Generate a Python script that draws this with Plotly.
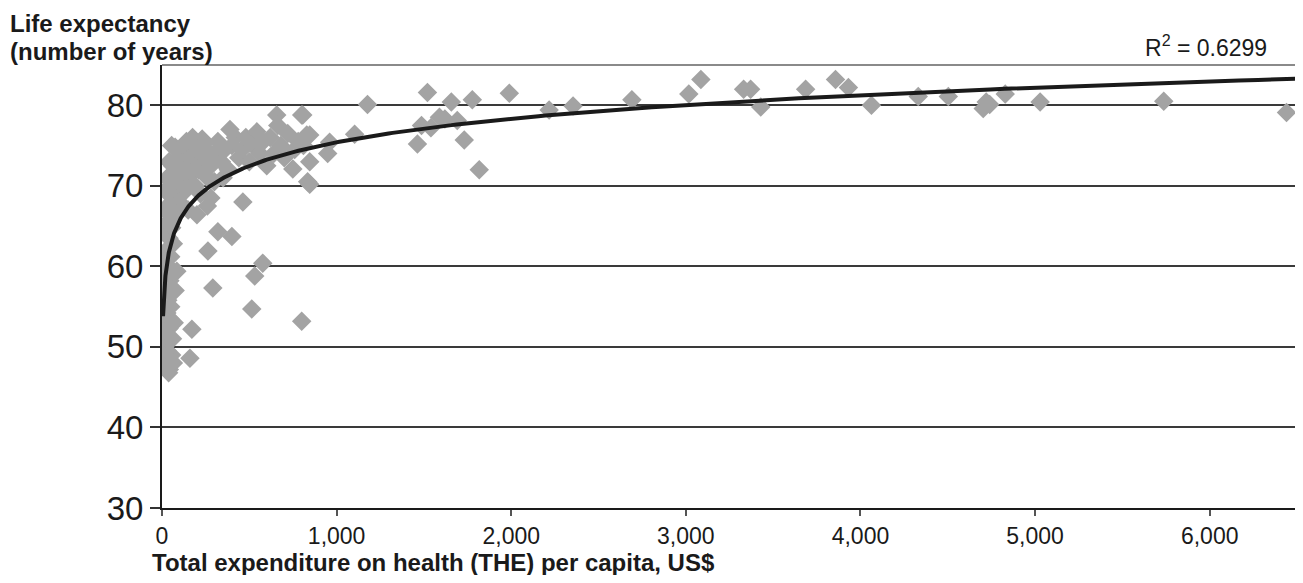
import plotly.graph_objects as go
import numpy as np

# THE per capita (US$) and life expectancy (years)
the_per_capita = [
    10, 15, 20, 25, 30, 12, 35, 22, 40, 18, 45, 28, 50, 33, 15, 55, 60, 42, 65, 70, 38, 8,
    20, 45, 30, 60, 85, 75, 12, 50, 25, 65, 40, 15, 55, 30, 70, 20, 45, 90, 35,
    60, 80, 100, 70, 110, 130, 90, 150, 120, 140, 100, 170, 180, 160, 200, 210, 230, 250,
    190, 220, 260, 240, 280, 300, 320, 340, 360, 380, 389, 400, 420, 440, 460, 480, 500,
    520, 543, 560, 580, 600, 620, 640, 657, 663, 680, 700, 720, 749, 760, 780, 800, 810,
    846, 829, 846, 846, 834, 960, 949, 1103, 806,
    280, 300, 350, 150, 260, 463, 200, 320, 400, 263, 577, 531, 291, 514, 800, 171, 160,
    40, 30, 20, 55, 75, 110, 140, 175, 205, 240, 270, 95, 125, 60, 85,
    1177, 1520, 1657, 1777, 1989, 1486, 1463, 1589, 1691, 1731, 1817, 1540, 1620,
    2217, 2354, 2691, 3017, 3086, 3331, 3371, 3429, 3686, 3857, 3931, 4063,
    4331, 4503, 4703, 4740, 4720, 4829, 5029, 5737, 6440,
]
life_expectancy = [
    47.5, 48.2, 47.8, 48.8, 49.5, 50.2, 50.8, 51.5, 52.3, 53.0, 53.5, 54.2, 55.0, 55.8, 56.5, 49.0, 51.0, 47.2, 48.0, 53.0, 46.8, 52.0,
    57.5, 58.2, 59.0, 59.5, 59.4, 57.0, 60.5, 61.2, 62.0, 62.8, 63.5, 64.2, 64.8, 65.5, 66.2, 67.0, 67.8, 68.5, 69.0,
    70.0, 71.0, 72.0, 73.0, 74.0, 73.5, 74.5, 72.5, 70.5, 69.5, 68.0, 71.5, 74.0, 75.0, 73.0, 72.0, 75.8, 74.5,
    70.0, 69.0, 71.0, 73.5, 72.5, 74.0, 75.5, 73.0, 74.5, 72.0, 77.0, 75.0, 76.0, 73.5, 74.5, 76.0, 73.0,
    75.0, 76.7, 74.0, 75.5, 72.5, 76.0, 74.0, 78.8, 77.5, 75.0, 73.5, 76.5, 72.1, 74.5, 75.5, 78.8, 75.0,
    76.3, 76.3, 73.0, 70.2, 70.5, 75.4, 74.0, 76.4, 78.8,
    68.5, 70.5, 71.0, 67.0, 67.5, 68.0, 66.4, 64.3, 63.7, 61.9, 60.4, 58.8, 57.3, 54.7, 53.2, 52.2, 48.6,
    73.0, 71.0, 69.5, 75.0, 74.8, 72.8, 75.5, 76.0, 74.5, 75.2, 73.8, 70.8, 71.8, 72.5, 66.5,
    80.1, 81.6, 80.4, 80.7, 81.5, 77.5, 75.2, 78.5, 78.1, 75.7, 72.0, 77.2, 78.3,
    79.4, 79.9, 80.7, 81.4, 83.2, 82.0, 82.0, 79.8, 82.0, 83.2, 82.2, 80.0,
    81.1, 81.1, 79.6, 80.1, 80.4, 81.4, 80.4, 80.5, 79.1,
]

# logarithmic trend line (y = a ln x + b) and its R^2
trend_a = 4.22
trend_b = 46.25
trend_x_range = [6, 6500]
r_squared = "0.6299"

x_ticks = [0, 1000, 2000, 3000, 4000, 5000, 6000]
x_tick_text = ["0", "1,000", "2,000", "3,000", "4,000", "5,000", "6,000"]
y_ticks = [30, 40, 50, 60, 70, 80]
y_title_lines = ["Life expectancy", "(number of years)"]

tx = np.geomspace(trend_x_range[0], trend_x_range[1], 400)
ty = trend_a * np.log(tx) + trend_b

FONT = "Liberation Sans, Arial, sans-serif"

# page has an 8px body margin: figure sits at (8, 8)
W, H = 1295, 567
L, R, T, B = 154, 6, 57, 67
PW, PH = W - L - R, H - T - B

fig = go.Figure()
fig.add_trace(go.Scatter(
    x=the_per_capita, y=life_expectancy, mode="markers",
    marker=dict(symbol="diamond", size=15, color="#a3a3a3", line=dict(width=0)),
    showlegend=False, hoverinfo="x+y",
))
fig.add_trace(go.Scatter(
    x=tx, y=ty, mode="lines", line=dict(color="#1a1a1a", width=4),
    showlegend=False, hoverinfo="skip",
))

fig.update_layout(
    width=W, height=H,
    margin=dict(l=L, r=R, t=T, b=B, pad=0),
    paper_bgcolor="white", plot_bgcolor="white",
    font=dict(family=FONT, color="#1a1a1a"),
    xaxis=dict(
        range=[0, 6500], tickvals=x_ticks, ticktext=x_tick_text,
        showgrid=False, zeroline=False,
        showline=True, linecolor="#1a1a1a", linewidth=2,
        ticks="outside", ticklen=6, tickwidth=2, tickcolor="#555",
        tickfont=dict(size=23, family=FONT, color="#1a1a1a"),
    ),
    yaxis=dict(
        range=[30, 85], tickvals=y_ticks,
        showgrid=True, gridcolor="#3a3a3a", gridwidth=2,
        zeroline=False,
        showline=True, linecolor="#1a1a1a", linewidth=2,
        ticks="outside", ticklen=10, tickwidth=2, tickcolor="#333",
        tickfont=dict(size=33, family=FONT, color="#1a1a1a"),
    ),
    shapes=[
        dict(type="line", xref="paper", yref="paper", x0=0, x1=1, y0=1, y1=1,
             line=dict(color="#8a8a8a", width=2)),
        dict(type="line", xref="paper", yref="paper", x0=1, x1=1, y0=0, y1=1,
             line=dict(color="#8a8a8a", width=2)),
    ],
    annotations=[
        dict(text="<b>" + y_title_lines[0] + "</b>", xref="paper", yref="paper",
             x=-L / PW, y=1 + T / PH, xanchor="left", yanchor="top",
             showarrow=False, font=dict(size=24, family=FONT, color="#1a1a1a")),
        dict(text="<b>" + y_title_lines[1] + "</b>", xref="paper", yref="paper",
             x=-L / PW, y=1 + (T - 43) / PH, xanchor="left", yanchor="middle",
             showarrow=False, font=dict(size=24, family=FONT, color="#1a1a1a")),
        dict(text="R<sup>2</sup> = " + r_squared, xref="paper", yref="paper",
             x=(1261 - L) / PW, y=1 + 2 / PH, xanchor="right", yanchor="bottom",
             showarrow=False, font=dict(size=23, family=FONT, color="#1a1a1a")),
        dict(text="<b>Total expenditure on health (THE) per capita, US$</b>", xref="paper", yref="paper",
             x=-12 / PW, y=-54 / PH, xanchor="left", yanchor="middle",
             showarrow=False, font=dict(size=24, family=FONT, color="#1a1a1a")),
    ],
)

fig.write_html("out.html")
